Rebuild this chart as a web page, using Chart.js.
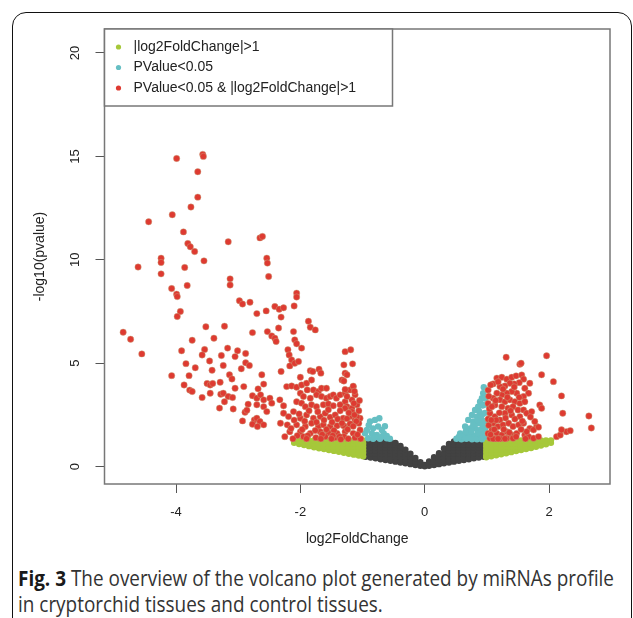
<!DOCTYPE html>
<html>
<head>
<meta charset="utf-8">
<script src="https://cdn.jsdelivr.net/npm/chart.js@4.4.1/dist/chart.umd.min.js"></script>
<style>
  html, body { margin: 0; padding: 0; background: #fff; }
  body { width: 633px; height: 618px; position: relative; overflow: hidden; }
  #frame { position: absolute; left: 12px; top: 12px; width: 620px; height: 660px;
           border: 1.5px solid #111; border-radius: 14px; box-sizing: border-box; }
  #plot { position: absolute; left: 0; top: 0; }
  #caption { position: absolute; left: 18px; top: 565px; font-family: "Open Sans", sans-serif;
             font-size: 21px; line-height: 26px; color: #333; white-space: nowrap; transform-origin: 0 0; }
  #caption b { color: #1a1a1a; }
</style>
</head>
<body>
<div id="frame"></div>
<canvas id="plot" width="633" height="560"></canvas>
<div id="caption">
  <div><span id="line1"><b>Fig. 3</b> The overview of the volcano plot generated by miRNAs profile</span></div>
  <div>in cryptorchid tissues and control tissues.</div>
</div>
<script>
const xTicks = [-4, -2, 0, 2];
const yTicks = [0, 5, 10, 15, 20];
const seriesLabels = ['|log2FoldChange|>1', 'PValue<0.05', 'PValue<0.05 & |log2FoldChange|>1'];

// significant and |FC|>1
const redPoints = [
  [-3.99,14.9],[-3.57,15.1],[-3.56,15.0],[-3.65,14.26],[-3.65,13.03],[-3.76,12.55],[-4.06,12.18],[-4.44,11.84],
  [-3.88,11.35],[-3.81,10.79],[-3.77,10.63],[-3.70,10.40],[-3.16,10.87],[-2.65,11.06],[-2.61,11.13],[-4.24,10.08],
  [-4.24,9.87],[-4.61,9.65],[-3.86,9.63],[-3.55,9.95],[-4.24,9.32],[-2.54,10.08],[-2.53,9.84],[-3.13,9.08],
  [-3.13,8.78],[-2.51,9.19],[-4.07,8.61],[-3.82,8.76],[-3.99,8.34],[-3.98,8.22],[-2.98,8.02],[-2.93,7.86],
  [-2.81,7.95],[-2.55,7.53],[-2.70,7.40],[-3.93,7.50],[-3.98,7.26],[-4.85,6.50],[-4.73,6.16],[-4.55,5.45],
  [-3.52,6.76],[-3.22,6.79],[-2.77,6.48],[-2.53,6.53],[-3.74,6.11],[-3.39,6.21],[-3.91,5.60],[-3.54,5.66],
  [-3.58,5.40],[-3.17,5.73],[-3.01,5.60],[-2.88,5.47],[-3.27,5.37],[-3.46,5.11],[-3.84,4.98],[-3.24,4.89],
  [-2.88,5.02],[-2.82,4.89],[-3.69,4.78],[-3.42,4.66],[-2.95,4.73],[-4.07,4.40],[-3.79,4.40],[-3.14,4.44],
  [-3.10,4.24],[-2.62,4.44],[-3.87,3.95],[-3.50,4.02],[-3.45,3.95],[-3.41,4.02],[-3.29,4.08],[-3.78,3.70],
  [-3.74,3.63],[-3.45,3.55],[-3.28,3.50],[-3.24,3.55],[-3.05,3.79],[-2.91,3.87],[-2.59,3.99],[-2.68,3.76],
  [-3.58,3.34],[-3.16,3.39],[-3.09,3.34],[-3.22,3.14],[-2.77,3.43],[-2.70,3.31],[-2.64,3.47],[-2.59,3.23],
  [-2.84,3.02],[-2.70,2.99],[-3.30,2.83],[-3.08,2.79],[-2.89,2.63],[-2.86,2.73],[-2.59,2.90],[-2.54,2.66],
  [-2.93,2.21],[-2.74,2.26],[-2.70,2.34],[-2.65,2.18],[-2.77,2.05],[-2.69,1.94],[-2.59,2.02],
  [-2.06,8.39],[-2.06,8.20],[-2.10,7.77],[-2.41,7.74],[-2.34,7.61],[-2.27,7.68],[-2.31,7.23],[-1.87,7.03],
  [-1.84,6.74],[-1.76,6.61],[-2.46,6.32],[-2.41,6.21],[-2.39,6.05],[-2.35,6.70],[-2.11,6.53],[-2.09,6.13],
  [-2.06,5.94],[-1.98,5.73],[-2.20,5.65],[-2.18,5.40],[-2.14,5.16],[-2.17,4.87],[-2.09,5.00],[-2.03,5.08],
  [-3.05,5.32],[-2.31,4.60],[-1.84,4.64],[-1.80,4.60],[-1.70,4.71],[-1.67,4.52],[-2.00,4.32],[-1.28,5.56],
  [-1.19,5.65],[-1.16,4.97],[-1.30,4.92],[-1.33,4.19],[-1.28,4.52],[-2.49,3.31],[-2.46,3.07],[-2.33,3.23],
  [-2.27,2.94],[-2.22,3.87],[-2.14,3.90],[-2.06,3.84],[-1.98,3.95],[-1.90,4.03],[-1.82,4.19],[-1.89,3.71],
  [-1.79,3.71],[-1.71,3.63],[-1.66,3.79],[-1.58,3.79],[-2.00,3.55],[-1.95,3.39],[-1.84,3.31],[-1.74,3.47],
  [-1.66,3.39],[-1.58,3.31],[-1.52,3.39],[-1.47,3.47],[-1.42,3.31],[-1.36,3.47],[-1.28,3.55],[-1.20,3.71],
  [-1.15,3.87],[-1.12,3.47],[-1.17,3.23],[-1.28,3.14],[-2.06,3.14],[-1.98,3.07],[-1.92,2.90],[-1.82,2.99],
  [-1.74,2.90],[-1.63,2.99],[-1.55,3.03],[-1.47,2.94],[-1.36,2.99],[-1.25,2.90],[-1.17,2.83],[-1.09,2.99],
  [-2.27,2.58],[-2.19,2.42],[-2.11,2.66],[-2.00,2.34],[-1.90,2.50],[-1.79,2.34],[-1.68,2.42],[-1.60,2.58],
  [-1.52,2.39],[-1.44,2.50],[-1.31,2.34],[-1.20,2.42],[-1.12,2.26],[-1.04,2.34],[-2.32,2.10],[-2.21,2.02],
  [-2.06,2.02],[-1.92,1.94],[-1.82,2.10],[-1.71,1.94],[-1.63,2.02],[-1.52,1.94],[-1.41,1.98],[-1.28,1.94],
  [-1.17,2.02],[-1.06,2.10],[-2.17,1.69],[-2.00,1.69],[-1.84,1.61],[-1.68,1.69],[-1.55,1.64],[-1.41,1.61],
  [-1.28,1.69],[-1.15,1.61],[-1.04,1.77],[-1.95,1.45],[-1.75,1.40],[-1.60,1.45],[-1.45,1.40],[-1.30,1.45],
  [-1.12,1.40],[-2.05,1.50],[-2.25,1.45],[-1.25,4.44],[-1.30,4.14],[-1.15,3.89],[-1.28,3.73],[-1.13,3.64],
  [-1.25,3.39],[-1.14,3.06],[-1.28,2.82],[-1.17,2.65],[-1.09,2.40],[-1.25,2.32],[-1.10,2.19],[-1.20,2.07],
  [-1.31,1.99],[-1.03,1.35],[-1.23,1.35],
  [-2.15,1.85],[-2.10,2.25],[-2.02,2.55],[-1.97,1.80],[-1.93,2.20],[-1.88,1.50],[-1.86,2.70],[-1.76,1.75],
  [-1.74,2.15],[-1.72,2.65],[-1.65,1.55],[-1.62,2.25],[-1.58,1.80],[-1.55,2.75],[-1.49,2.15],[-1.46,1.75],
  [-1.40,2.30],[-1.37,1.45],[-1.36,2.70],[-1.33,2.10],[-1.24,1.80],[-1.22,2.60],[-1.15,1.95],[-1.13,2.50],
  [-1.08,1.55],[-1.06,2.70],[-1.05,3.20],[-1.48,1.50],[-2.12,1.35],[-1.90,1.35],[-1.67,1.35],[-1.50,1.35],
  [-1.35,1.32],
  [1.31,5.29],[1.96,5.36],[1.53,4.95],[1.55,5.00],[1.88,4.44],[1.16,4.28],[1.24,4.32],[1.32,4.23],
  [1.40,4.32],[1.47,4.39],[1.56,4.43],[1.59,4.23],[1.52,4.06],[1.44,4.00],[1.37,4.03],[1.29,3.90],
  [1.21,3.87],[1.69,4.03],[2.07,4.11],[2.20,3.42],[1.61,3.79],[1.67,3.55],[1.59,3.39],[1.48,3.55],
  [1.40,3.63],[1.32,3.55],[1.24,3.47],[1.16,3.55],[1.10,3.31],[1.21,3.23],[1.29,3.14],[1.37,3.23],
  [1.45,3.14],[1.53,3.06],[1.61,3.14],[1.13,2.98],[1.24,2.90],[1.34,2.82],[1.42,2.90],[1.50,2.74],
  [1.59,2.74],[1.29,2.58],[1.40,2.50],[1.53,2.42],[1.64,2.58],[1.72,2.66],[1.85,2.98],[1.88,2.82],
  [1.05,2.58],[1.13,2.42],[1.21,2.26],[1.10,2.10],[1.18,1.94],[1.26,2.02],[1.35,2.10],[1.42,1.94],
  [1.51,2.02],[1.59,2.10],[1.69,1.85],[1.80,1.94],[1.77,2.18],[1.08,1.77],[1.16,1.61],[1.24,1.53],
  [1.32,1.69],[1.40,1.53],[1.48,1.61],[1.05,1.37],[1.13,1.35],[1.21,1.35],[1.32,1.37],[1.42,1.37],
  [1.61,1.53],[1.67,1.45],[1.75,1.37],[1.83,1.45],[1.64,1.69],[1.29,1.35],[1.10,1.35],[1.18,1.35],
  [2.12,1.45],[2.18,1.53],[2.28,1.69],[2.34,1.74],[2.20,1.78],[2.64,2.45],[2.68,1.87],[2.22,2.58],
  [1.75,1.78],[1.83,1.91],[1.02,3.70],[1.03,3.40],[1.02,3.05],[1.04,2.80],[1.02,2.30],[1.03,2.00],
  [1.02,1.60],[1.10,4.00],
  [1.06,1.55],[1.12,1.80],[1.15,2.25],[1.20,2.60],[1.27,1.80],[1.30,2.35],[1.36,1.65],[1.38,2.70],
  [1.45,2.30],[1.47,1.45],[1.55,1.80],[1.57,2.20],[1.62,1.35],[1.70,2.40],[1.08,2.90],[1.14,3.20],
  [1.26,3.75],[1.06,3.95],[1.18,4.10],[1.33,3.35],[1.52,3.35],[1.44,3.85],[1.07,2.25]
];

// significant but |FC|<1
const cyanPoints = [
  [-0.88,2.18],[-0.80,2.26],[-0.73,2.34],[-0.93,1.77],[-0.83,1.85],[-0.75,1.94],[-0.69,1.77],[-0.96,1.61],
  [-0.85,1.61],[-0.77,1.53],[-0.66,1.61],[-0.91,1.37],[-0.83,1.35],[-0.72,1.35],[-0.61,1.37],[-0.56,1.35],
  [-0.80,1.42],[-0.69,1.45],[-0.61,1.48],[-0.90,2.00],[-0.64,1.95],
  [0.95,3.84],[0.94,3.55],[0.92,3.31],[0.89,3.14],[0.86,2.90],[0.81,2.74],[0.88,2.66],[0.76,2.50],
  [0.84,2.42],[0.92,2.50],[0.70,2.26],[0.78,2.18],[0.86,2.10],[0.94,2.18],[0.65,1.94],[0.73,1.85],
  [0.81,1.85],[0.89,1.77],[0.97,1.85],[0.57,1.61],[0.65,1.53],[0.73,1.53],[0.81,1.48],[0.89,1.53],
  [0.97,1.45],[0.51,1.35],[0.59,1.32],[0.67,1.35],[0.76,1.32],[0.84,1.32],[0.92,1.32],[0.97,2.60],
  [0.97,3.00],[0.97,3.30],[0.93,2.95],[0.90,2.35],[0.97,2.20],[0.85,2.25],[0.78,2.00],[0.70,1.70],
  [0.60,1.45],[0.55,1.45],[0.93,2.00],[0.97,1.65],[0.85,1.62],[0.75,1.70],[0.66,1.70]
];

// |FC|>1 but not significant: [x, y values at that x]
const greenCols = [
  [-2.10,[1.15,1.27]],[-2.02,[1.09,1.27]],[-1.94,[1.04,1.12,1.27]],[-1.86,[0.99,1.12,1.27]],
  [-1.78,[0.94,1.12,1.27]],[-1.70,[0.89,0.97,1.12,1.27]],[-1.62,[0.85,0.97,1.12,1.27]],
  [-1.54,[0.80,0.97,1.12,1.27]],[-1.46,[0.76,0.82,0.97,1.12,1.27]],[-1.38,[0.72,0.82,0.97,1.12,1.27]],
  [-1.30,[0.67,0.82,0.97,1.12,1.27]],[-1.22,[0.62,0.67,0.82,0.97,1.12,1.27]],
  [-1.14,[0.58,0.67,0.82,0.97,1.12,1.27]],[-1.06,[0.54,0.67,0.82,0.97,1.12,1.27]],
  [-0.99,[0.50,0.67,0.82,0.97,1.12,1.27]],
  [0.99,[0.45,0.52,0.67,0.82,0.97,1.12,1.27]],[1.07,[0.50,0.67,0.82,0.97,1.12,1.27]],
  [1.15,[0.55,0.67,0.82,0.97,1.12,1.27]],[1.23,[0.60,0.67,0.82,0.97,1.12,1.27]],
  [1.31,[0.65,0.82,0.97,1.12,1.27]],[1.39,[0.70,0.82,0.97,1.12,1.27]],[1.47,[0.75,0.82,0.97,1.12,1.27]],
  [1.55,[0.80,0.97,1.12,1.27]],[1.63,[0.85,0.97,1.12,1.27]],[1.71,[0.90,0.97,1.12,1.27]],
  [1.79,[0.96,1.12,1.27]],[1.87,[1.02,1.12,1.27]],[1.95,[1.08,1.27]],[2.03,[1.15,1.27]]
];

// neither
const grayCols = [
  [-0.95,[0.48,0.62,0.77,0.92,1.07,1.22]],[-0.87,[0.44,0.62,0.77,0.92,1.07,1.22]],
  [-0.79,[0.40,0.47,0.62,0.77,0.92,1.07,1.22]],[-0.71,[0.36,0.47,0.62,0.77,0.92,1.07,1.22]],
  [-0.63,[0.32,0.47,0.62,0.77,0.92,1.07,1.22]],[-0.55,[0.28,0.47,0.62,0.77,0.92,1.07,1.20]],
  [-0.47,[0.24,0.32,0.47,0.62,0.77,0.92,1.07,1.15]],[-0.39,[0.20,0.32,0.47,0.62,0.77,0.92,1.00]],
  [-0.31,[0.16,0.32,0.47,0.62,0.82]],[-0.23,[0.12,0.32,0.47,0.62]],[-0.15,[0.08,0.25,0.42]],
  [-0.07,[0.04,0.22]],[0.00,[0.02,0.08]],[0.07,[0.04,0.25]],[0.15,[0.08,0.25,0.45]],
  [0.23,[0.12,0.32,0.47,0.65]],[0.31,[0.16,0.32,0.47,0.62,0.88]],
  [0.39,[0.20,0.32,0.47,0.62,0.77,0.92,1.10]],[0.47,[0.24,0.32,0.47,0.62,0.77,0.92,1.07,1.22]],
  [0.55,[0.28,0.47,0.62,0.77,0.92,1.07,1.22]],[0.63,[0.32,0.47,0.62,0.77,0.92,1.07,1.22]],
  [0.71,[0.36,0.47,0.62,0.77,0.92,1.07,1.22]],[0.79,[0.40,0.47,0.62,0.77,0.92,1.07,1.22]],
  [0.87,[0.44,0.62,0.77,0.92,1.07,1.22]],[0.95,[0.48,0.62,0.77,0.92,1.07,1.22]]
];

const toXY = pts => pts.map(p => ({x: p[0], y: p[1]}));
const colsToXY = cols => cols.flatMap(c => c[1].map(y => ({x: c[0], y: y})));

const tickFont = {family: '"Liberation Sans", Arial, sans-serif', size: 13};
const titleFont = {family: '"Liberation Sans", Arial, sans-serif', size: 14};

// R style box round the plot region, then the legend box inside it
const plotBox = {
  id: 'plotBox',
  afterDatasetsDraw(chart) {
    const {ctx, chartArea: a} = chart;
    ctx.save();
    ctx.strokeStyle = '#777';
    ctx.lineWidth = 1.5;
    ctx.strokeRect(a.left, a.top, a.right - a.left, a.bottom - a.top);
    ctx.restore();
  },
  afterDraw(chart) {
    const {ctx, chartArea: a} = chart;
    ctx.save();
    ctx.fillStyle = '#fff';
    ctx.fillRect(a.left, a.top, 288, 77);
    ctx.strokeStyle = '#777';
    ctx.lineWidth = 1.5;
    ctx.strokeRect(a.left, a.top, 288, 77);
    ctx.font = '14px "Liberation Sans", Arial, sans-serif';
    ctx.textBaseline = 'middle';
    chart.data.datasets.filter(d => d.inLegend).forEach((ds, i) => {
      const y = a.top + 18 + i * 20.5;
      ctx.fillStyle = ds.backgroundColor;
      ctx.beginPath();
      ctx.arc(a.left + 14, y, 2.6, 0, Math.PI * 2);
      ctx.fill();
      ctx.fillStyle = '#222';
      ctx.fillText(ds.label, a.left + 29, y);
    });
    ctx.restore();
  }
};

new Chart(document.getElementById('plot'), {
  type: 'scatter',
  data: {
    datasets: [
      {label: seriesLabels[0], data: colsToXY(greenCols), backgroundColor: '#A6C83A', borderWidth: 0, order: 2, inLegend: true},
      {label: seriesLabels[1], data: toXY(cyanPoints), backgroundColor: '#66BFC3', borderWidth: 0, order: 1, inLegend: true},
      {label: seriesLabels[2], data: toXY(redPoints), backgroundColor: '#DE3A31', borderColor: 'rgba(200,170,130,0.6)', borderWidth: 0.7, order: 0, inLegend: true},
      {label: 'other', data: colsToXY(grayCols), backgroundColor: '#424242', borderWidth: 0, order: 3, inLegend: false}
    ]
  },
  options: {
    responsive: false,
    animation: false,
    devicePixelRatio: 1,
    layout: {padding: {left: 0, right: 23, top: 29, bottom: 0}},
    elements: {point: {radius: 3.2, hoverRadius: 3.2}},
    plugins: {legend: {display: false}, tooltip: {enabled: false}},
    scales: {
      x: {
        type: 'linear', min: -5.15, max: 2.98,
        afterBuildTicks: s => { s.ticks = xTicks.map(v => ({value: v})); },
        afterFit: s => { s.height = 76; },
        grid: {drawOnChartArea: false, tickLength: 9, color: '#555'},
        border: {display: false},
        ticks: {font: tickFont, color: '#222', padding: 12},
        title: {display: true, text: 'log2FoldChange', font: titleFont, color: '#222', padding: {top: 0, bottom: 12.6}}
      },
      y: {
        type: 'linear', min: -0.84, max: 21.16,
        afterBuildTicks: s => { s.ticks = yTicks.map(v => ({value: v})); },
        afterFit: s => { s.width = 104.5; },
        grid: {drawOnChartArea: false, tickLength: 9, color: '#555'},
        border: {display: false},
        ticks: {font: tickFont, color: '#222', padding: 13, minRotation: 90, maxRotation: 90, crossAlign: 'center'},
        title: {display: true, text: '-log10(pvalue)', font: titleFont, color: '#222', padding: {top: 31.6, bottom: 0}}
      }
    }
  },
  plugins: [plotBox]
});

// squeeze the caption so its first line spans the same width as in the figure
document.fonts.ready.then(() => {
  const w = document.getElementById('line1').getBoundingClientRect().width;
  document.getElementById('caption').style.transform = 'scaleX(' + (596 / w) + ')';
});
</script>
</body>
</html>
